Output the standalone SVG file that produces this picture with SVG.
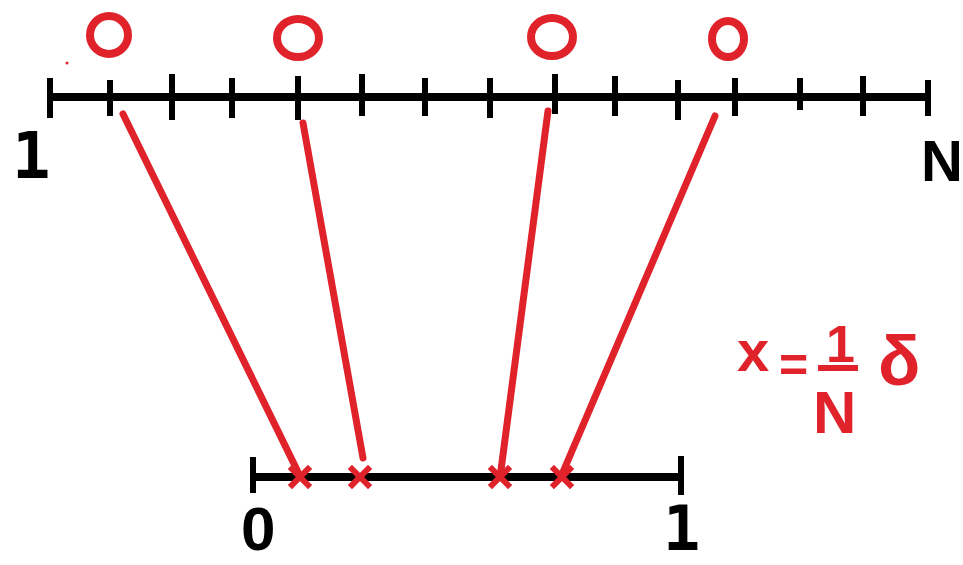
<svg xmlns="http://www.w3.org/2000/svg" width="963" height="565" viewBox="0 0 963 565">
<style>
.ax{stroke:#000;stroke-width:8;fill:none;stroke-linecap:butt}
.tk{stroke:#000;stroke-width:6;fill:none}
.rc{stroke:#e0222b;stroke-width:8;fill:none}
.cn{stroke:#e0222b;stroke-width:7;fill:none;stroke-linecap:round}
.cx{stroke:#e0222b;stroke-width:6;fill:none;stroke-linecap:square}
.lb{font-family:"DejaVu Sans Mono",monospace;font-weight:bold;fill:#000}
.fr{font-family:"Liberation Sans",Arial,sans-serif;font-weight:bold;fill:#e0222b}
</style>
<rect width="963" height="565" fill="#fff"/>
<g id="top-axis">
<line class="ax" x1="50" y1="97" x2="928" y2="97"/>
<path class="tk" d="M50 78V118M110 80V116M172 74V120M232 78V118M298 76V120M362 74V116M425 78V116M490 78V118M555 74V114M615 76V116M678 80V120M735 78V116M800 78V110M863 76V116M928 80V116"/>
</g>
<g id="samples">
<ellipse class="rc" cx="109" cy="35" rx="19" ry="19"/>
<ellipse class="rc" cx="298" cy="38" rx="21" ry="19"/>
<ellipse class="rc" cx="552" cy="37" rx="21" ry="19"/>
<ellipse class="rc" cx="728" cy="39" rx="16" ry="18"/>
<circle cx="67" cy="63" r="1.5" fill="#e0222b"/>
</g>
<g id="bottom-axis">
<line class="ax" x1="253" y1="477" x2="681" y2="477"/>
<path class="tk" d="M253 457V493M681 456V495"/>
</g>
<g id="connectors">
<line class="cn" x1="123" y1="114" x2="298" y2="472"/>
<line class="cn" x1="303" y1="123" x2="363" y2="458"/>
<line class="cn" x1="548" y1="111" x2="501" y2="470"/>
<line class="cn" x1="715" y1="116" x2="563" y2="472"/>
</g>
<g id="marks">
<path class="cx" d="M292 469L308 485M308 469L292 485"/>
<path class="cx" d="M352 469L368 485M368 469L352 485"/>
<path class="cx" d="M492 469L508 485M508 469L492 485"/>
<path class="cx" d="M554 469L570 485M570 469L554 485"/>
</g>
<g id="labels">
<text class="lb" x="12" y="178" font-size="64">1</text>
<text x="921" y="181" font-family="Liberation Sans,Arial,sans-serif" font-weight="bold" font-size="58" fill="#000">N</text>
<text x="241" y="550" font-family="Liberation Sans,Arial,sans-serif" font-weight="bold" font-size="62" fill="#000">0</text>
<text class="lb" x="663" y="550" font-size="62">1</text>
</g>
<g id="formula">
<text class="fr" x="737" y="371" font-size="58">x</text>
<text class="fr" x="779" y="382" font-size="50">=</text>
<line x1="818" y1="368" x2="858" y2="368" stroke="#e0222b" stroke-width="6"/>
<text class="fr" x="826" y="362" font-size="52">1</text>
<text class="fr" x="813" y="433" font-size="60">N</text>
<text class="fr" x="878" y="385" font-size="70">δ</text>
</g>
</svg>
